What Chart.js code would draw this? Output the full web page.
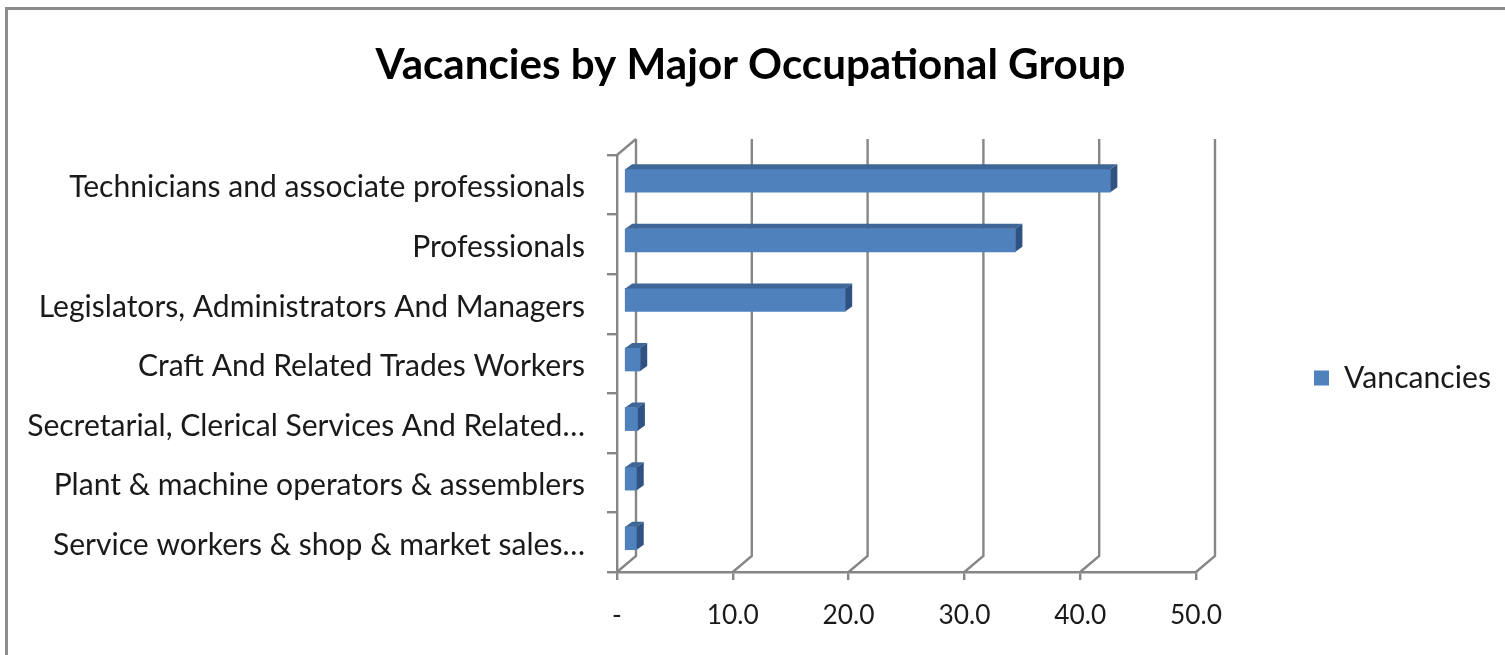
<!DOCTYPE html>
<html>
<head>
<meta charset="utf-8">
<script src="https://cdn.jsdelivr.net/npm/chart.js@4.4.1/dist/chart.umd.min.js"></script>
<style>
  html, body { margin: 0; padding: 0; background: #fff; overflow: hidden; }
  #wrap { position: relative; width: 1505px; height: 655px; }
  #frame { position: absolute; left: 5px; top: 7px; width: 1700px; height: 800px;
           border-left: 3px solid #8c8c8c; border-top: 3px solid #8c8c8c; box-sizing: border-box; }
  canvas { position: absolute; left: 0; top: 0; }
</style>
</head>
<body>
<div id="wrap">
  <div id="frame"></div>
  <canvas id="c" width="1505" height="655"></canvas>
</div>
<script>
// ---- data ----
const categories = [
  "Technicians and associate professionals",
  "Professionals",
  "Legislators, Administrators And Managers",
  "Craft And Related Trades Workers",
  "Secretarial, Clerical Services And Related…",
  "Plant & machine operators & assemblers",
  "Service workers & shop & market sales…"
];
const vacancies = [42.0, 33.8, 19.1, 1.4, 1.2, 1.1, 1.1];
const seriesName = "Vancancies";
const xTickValues = [0, 10, 20, 30, 40, 50];
const xTickLabels = ["-", "10.0", "20.0", "30.0", "40.0", "50.0"];
const chartTitle = "Vacancies by Major Occupational Group";

// ---- style ----
const FAMILY = "Lato, 'Open Sans', sans-serif";
const GRID = "#868686";
const GRID_W = 2.4;
const FRONT = "#4F81BD";
const TOP = "#3E6696";
const SIDE = "#2F5283";
const DX = 19, DY = -16;       // wall depth
const FX = 7, FY = -4;         // bar front-face offset
const BDX = 7, BDY = -5;       // bar depth

function fitSize(text, weight, target) {
  const m = document.createElement('canvas').getContext('2d');
  m.font = weight + " 100px " + FAMILY;
  return 100 * target / m.measureText(text).width;
}
function textW(text, weight, size) {
  const m = document.createElement('canvas').getContext('2d');
  m.font = weight + " " + size + "px " + FAMILY;
  return m.measureText(text).width;
}
const titleSize = fitSize(chartTitle, "bold", 750);
const labelSize = fitSize(categories[0], "normal", 516);
const tickSize = fitSize("10.0", "normal", 52);
const legendSize = fitSize(seriesName, "normal", 147);

const legendPad = 118;
const legendWidth = legendPad + 15 + legendSize / 2 + textW(seriesName, "normal", legendSize) + 10;
const padRight = Math.max(0, 1505 - 1196 - legendWidth);

const titlePadTop = 65 - 0.6 * titleSize;
const titlePadBottom = 155 - titlePadTop - 1.2 * titleSize;

const threeD = {
  id: 'threeD',
  beforeDatasetsDraw(chart) {
    const {ctx, chartArea: a, scales: {x}} = chart;
    ctx.save();
    ctx.strokeStyle = GRID;
    ctx.lineWidth = GRID_W;
    ctx.lineJoin = 'miter';
    xTickValues.forEach(v => {
      const px = x.getPixelForValue(v);
      ctx.beginPath();
      ctx.moveTo(px + DX, a.top + DY);
      ctx.lineTo(px + DX, a.bottom + DY);
      ctx.lineTo(px, a.bottom);
      ctx.stroke();
    });
    ctx.beginPath();
    ctx.moveTo(a.left, a.top);
    ctx.lineTo(a.left + DX, a.top + DY);
    ctx.stroke();
    ctx.restore();
  },
  beforeDatasetDraw(chart) {
    chart.ctx.save();
    chart.ctx.translate(FX, FY);
  },
  afterDatasetDraw(chart, args) {
    const ctx = chart.ctx;
    args.meta.data.forEach(el => {
      const {x, y, base, height} = el.getProps(['x', 'y', 'base', 'height'], true);
      const left = Math.min(base, x), right = Math.max(base, x);
      const top = y - height / 2, bottom = y + height / 2;
      ctx.fillStyle = TOP;
      ctx.beginPath();
      ctx.moveTo(left, top);
      ctx.lineTo(right, top);
      ctx.lineTo(right + BDX, top + BDY);
      ctx.lineTo(left + BDX, top + BDY);
      ctx.closePath();
      ctx.fill();
      ctx.fillStyle = SIDE;
      ctx.beginPath();
      ctx.moveTo(right, top);
      ctx.lineTo(right + BDX, top + BDY);
      ctx.lineTo(right + BDX, bottom + BDY);
      ctx.lineTo(right, bottom);
      ctx.closePath();
      ctx.fill();
    });
    ctx.restore();
  }
};

new Chart(document.getElementById('c'), {
  type: 'bar',
  data: {
    labels: categories,
    datasets: [{
      label: seriesName,
      data: vacancies,
      backgroundColor: FRONT,
      borderWidth: 0,
      barThickness: 23,
      clip: false
    }]
  },
  plugins: [threeD],
  options: {
    indexAxis: 'y',
    responsive: false,
    animation: false,
    devicePixelRatio: 1,
    layout: { padding: { left: 0, right: padRight, top: 0, bottom: 0 } },
    scales: {
      x: {
        type: 'linear',
        min: 0, max: 50,
        afterBuildTicks(scale) { scale.ticks = xTickValues.map(v => ({ value: v })); },
        afterFit(scale) { scale.height = 83; },
        ticks: {
          callback: (v, i) => xTickLabels[i],
          font: { family: FAMILY, size: tickSize },
          color: '#1a1a1a',
          padding: 20,
          maxRotation: 0,
          autoSkip: false
        },
        grid: { drawOnChartArea: false, drawTicks: true, tickLength: 8, color: GRID, lineWidth: GRID_W },
        border: { display: true, color: GRID, width: GRID_W }
      },
      y: {
        afterFit(scale) { scale.width = 617; },
        ticks: {
          font: { family: FAMILY, size: labelSize },
          color: '#1a1a1a',
          padding: 22,
          labelOffset: 3,
          autoSkip: false
        },
        grid: { offset: true, drawOnChartArea: false, drawTicks: true, tickLength: 10, color: GRID, lineWidth: GRID_W },
        border: { display: true, color: GRID, width: GRID_W }
      }
    },
    plugins: {
      title: {
        display: true,
        text: chartTitle,
        color: '#000',
        font: { family: FAMILY, size: titleSize, weight: 'bold', lineHeight: 1.2 },
        padding: { top: titlePadTop, bottom: titlePadBottom }
      },
      legend: {
        display: true,
        position: 'right',
        fullSize: false,
        title: { display: true, text: ' ', font: { size: 12, lineHeight: 1.2 }, padding: { top: 7.3, bottom: 7.3 } },
        labels: {
          boxWidth: 15, boxHeight: 15,
          padding: legendPad,
          color: '#1a1a1a',
          font: { family: FAMILY, size: legendSize }
        }
      },
      tooltip: { enabled: false }
    }
  }
});
</script>
</body>
</html>
